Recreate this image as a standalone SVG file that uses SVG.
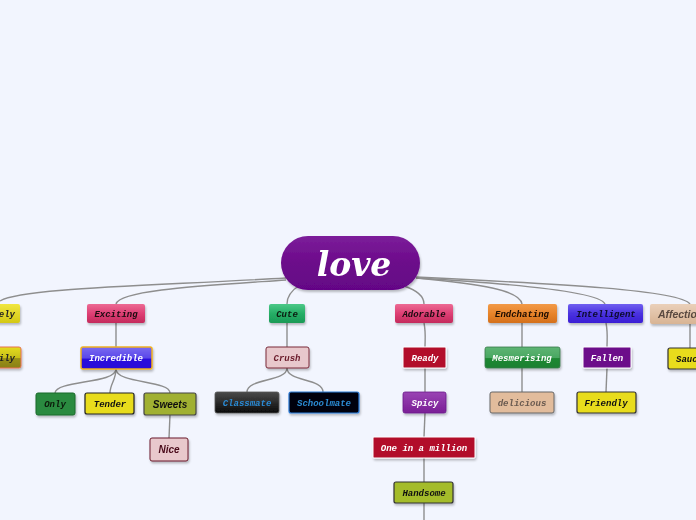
<svg xmlns="http://www.w3.org/2000/svg" width="696" height="520" viewBox="0 0 696 520">
<defs>
<linearGradient id="gPink" x1="0" y1="0" x2="0" y2="1"><stop offset="0" stop-color="#ec6a94"/><stop offset="0.5" stop-color="#de3f74"/><stop offset="1" stop-color="#c42a5c"/></linearGradient>
<linearGradient id="gGreen" x1="0" y1="0" x2="0" y2="1"><stop offset="0" stop-color="#4cc888"/><stop offset="0.5" stop-color="#26ae66"/><stop offset="1" stop-color="#1a9a56"/></linearGradient>
<linearGradient id="gOrange" x1="0" y1="0" x2="0" y2="1"><stop offset="0" stop-color="#f29a48"/><stop offset="0.5" stop-color="#e8842a"/><stop offset="1" stop-color="#d4701c"/></linearGradient>
<linearGradient id="gBlue" x1="0" y1="0" x2="0" y2="1"><stop offset="0" stop-color="#7060f0"/><stop offset="0.5" stop-color="#4a32e0"/><stop offset="1" stop-color="#3a1ed4"/></linearGradient>
<linearGradient id="gTan" x1="0" y1="0" x2="0" y2="1"><stop offset="0" stop-color="#ead0ba"/><stop offset="1" stop-color="#d8b494"/></linearGradient>
<linearGradient id="gYellow" x1="0" y1="0" x2="0" y2="1"><stop offset="0" stop-color="#f0e640"/><stop offset="1" stop-color="#d4c814"/></linearGradient>
<linearGradient id="gOlive" x1="0" y1="0" x2="0" y2="1"><stop offset="0" stop-color="#e4dc20"/><stop offset="0.5" stop-color="#c8c018"/><stop offset="0.55" stop-color="#9a9018"/><stop offset="1" stop-color="#8a8018"/></linearGradient>
<linearGradient id="gIncred" x1="0" y1="0" x2="0" y2="1"><stop offset="0" stop-color="#7a6af0"/><stop offset="0.5" stop-color="#5a48ea"/><stop offset="0.55" stop-color="#2c10dc"/><stop offset="1" stop-color="#2a0ad8"/></linearGradient>
<linearGradient id="gMes" x1="0" y1="0" x2="0" y2="1"><stop offset="0" stop-color="#5eb474"/><stop offset="0.5" stop-color="#4aa862"/><stop offset="0.55" stop-color="#1e8834"/><stop offset="1" stop-color="#1a8030"/></linearGradient>
<linearGradient id="gBlack" x1="0" y1="0" x2="0" y2="1"><stop offset="0" stop-color="#4a4a4a"/><stop offset="0.5" stop-color="#2a2a2a"/><stop offset="1" stop-color="#0a0a0a"/></linearGradient>
<linearGradient id="gPurple" x1="0" y1="0" x2="0" y2="1"><stop offset="0" stop-color="#9a44b4"/><stop offset="1" stop-color="#7a1e96"/></linearGradient>
<linearGradient id="gCenter" x1="0" y1="0" x2="0" y2="1"><stop offset="0" stop-color="#7c1e9a"/><stop offset="0.5" stop-color="#6c0a8a"/><stop offset="1" stop-color="#640686"/></linearGradient>
<filter id="sh" x="-20%" y="-20%" width="140%" height="160%"><feDropShadow dx="1" dy="2" stdDeviation="1" flood-color="#000" flood-opacity="0.25"/></filter>
</defs>
<style>
.c{fill:none;stroke:#8e8e8e;stroke-width:1.4}
.n{filter:url(#sh)}
.t{font-family:"Liberation Mono","DejaVu Sans Mono",monospace;font-size:9px;font-style:italic;font-weight:bold;text-anchor:middle}
.s{font-family:"Liberation Sans",Arial,sans-serif;font-style:italic;font-weight:bold;text-anchor:middle}
.e{text-anchor:end}
.b{text-anchor:start}
</style>
<rect width="696" height="520" fill="#f2f5fe"/>
<g id="connectors">
<path class="c" d="M286,278 C150,286 20,288 0,301"/>
<path class="c" d="M286,280 C200,286 120,290 116,304"/>
<path class="c" d="M300,285 C292,290 287,296 287,304"/>
<path class="c" d="M404,286 C416,290 424,296 424,304"/>
<path class="c" d="M416,278 C480,284 520,290 522,304"/>
<path class="c" d="M416,278 C520,284 600,292 605,304"/>
<path class="c" d="M416,277 C560,284 680,290 690,304"/>
<path class="c" d="M116,323 L116,347"/>
<path class="c" d="M116,369 C116,384 56,380 55,393"/>
<path class="c" d="M116,369 C116,380 110,384 110,393"/>
<path class="c" d="M116,369 C116,384 170,380 170,393"/>
<path class="c" d="M170,415 L169,438"/>
<path class="c" d="M287,323 L287,347"/>
<path class="c" d="M287,368 C287,382 247,378 247,392"/>
<path class="c" d="M287,368 C287,382 323,378 323,392"/>
<path class="c" d="M424,323 C426,333 425,340 425,347"/>
<path class="c" d="M425,368 L425,392"/>
<path class="c" d="M425,413 L424,437"/>
<path class="c" d="M424,458 L424,482"/>
<path class="c" d="M424,503 L424,520"/>
<path class="c" d="M522,323 L522,347"/>
<path class="c" d="M522,368 L522,392"/>
<path class="c" d="M606,323 C608,333 607,340 607,347"/>
<path class="c" d="M607,368 L606,392"/>
<path class="c" d="M690,324 L690,348"/>
</g>
<g id="love" class="n"><rect x="281" y="236" width="139" height="54" rx="27" fill="url(#gCenter)"/><text x="354" y="276" font-family="'DejaVu Serif',serif" font-size="33" font-style="italic" font-weight="bold" fill="#fff" text-anchor="middle">love</text></g>
<g id="lovely" class="n"><rect x="-40" y="304" width="60" height="19" rx="2" fill="url(#gYellow)"/><text class="t e" x="15" y="317" fill="#222">Lovely</text></g>
<g id="exciting" class="n"><rect x="87" y="304" width="58" height="19" rx="2" fill="url(#gPink)"/><text class="t" x="116" y="317" fill="#1a0a10">Exciting</text></g>
<g id="cute" class="n"><rect x="269" y="304" width="36" height="19" rx="2" fill="url(#gGreen)"/><text class="t" x="287" y="317" fill="#0a1a10">Cute</text></g>
<g id="adorable" class="n"><rect x="395" y="304" width="58" height="19" rx="2" fill="url(#gPink)"/><text class="t" x="424" y="317" fill="#1a0a10">Adorable</text></g>
<g id="endchating" class="n"><rect x="488" y="304" width="69" height="19" rx="2" fill="url(#gOrange)"/><text class="t" x="522" y="317" fill="#1a0a00">Endchating</text></g>
<g id="intelligent" class="n"><rect x="568" y="304" width="75" height="19" rx="2" fill="url(#gBlue)"/><text class="t" x="606" y="317" fill="#0a0a2a" font-style="normal">Intelligent</text></g>
<g id="affection" class="n"><rect x="650" y="304" width="80" height="20" rx="2" fill="url(#gTan)"/><text class="s b" x="658" y="318" font-size="10.5" fill="#5a4a40">Affection</text></g>
<g id="family" class="n"><rect x="-40" y="347" width="61" height="21" rx="2" fill="url(#gOlive)" stroke="#e87050" stroke-width="1"/><text class="t e" x="15" y="361" fill="#222">Family</text></g>
<g id="incredible" class="n"><rect x="81" y="347" width="71" height="22" rx="2" fill="url(#gIncred)" stroke="#f0b020" stroke-width="1.5"/><text class="t" x="116" y="361" fill="#fff">Incredible</text></g>
<g id="crush" class="n"><rect x="266" y="347" width="43" height="21" rx="2" fill="#e8c8cc" stroke="#7a2a3a" stroke-width="1"/><text class="t" x="287" y="361" fill="#6a1a2a">Crush</text></g>
<g id="ready" class="n"><rect x="403" y="347" width="43" height="21" rx="1" fill="#b20e2c" stroke="#fff" stroke-width="1"/><text class="t" x="425" y="361" fill="#fff">Ready</text></g>
<g id="mesmerising" class="n"><rect x="485" y="347" width="75" height="21" rx="2" fill="url(#gMes)" stroke="#3a7a4a" stroke-width="0.8"/><text class="t" x="522" y="361" fill="#fff">Mesmerising</text></g>
<g id="fallen" class="n"><rect x="583" y="347" width="48" height="21" rx="1" fill="#6c0a8a" stroke="#fff" stroke-width="1"/><text class="t" x="607" y="361" fill="#fff">Fallen</text></g>
<g id="saucy" class="n"><rect x="668" y="348" width="60" height="21" rx="2" fill="#e8dc1e" stroke="#333" stroke-width="1.2"/><text class="t b" x="676" y="362" fill="#111">Saucy</text></g>
<g id="only" class="n"><rect x="36" y="393" width="39" height="22" rx="2" fill="#2a8a40" stroke="#1a6a2a" stroke-width="1"/><text class="t" x="55" y="407" fill="#0a1a0a">Only</text></g>
<g id="tender" class="n"><rect x="85" y="393" width="49" height="21" rx="2" fill="#e8dc1e" stroke="#222" stroke-width="1.2"/><text class="t" x="110" y="407" fill="#111">Tender</text></g>
<g id="sweets" class="n"><rect x="144" y="393" width="52" height="22" rx="2" fill="#a0b030" stroke="#444" stroke-width="1.2"/><text class="s" x="170" y="408" font-size="10" fill="#111">Sweets</text></g>
<g id="nice" class="n"><rect x="150" y="438" width="38" height="23" rx="2" fill="#e8c8cc" stroke="#6a1a2a" stroke-width="1"/><text class="s" x="169" y="453" font-size="10" fill="#4a0a1a">Nice</text></g>
<g id="classmate" class="n"><rect x="215" y="392" width="64" height="21" rx="2" fill="url(#gBlack)" stroke="#555" stroke-width="0.8"/><text class="t" x="247" y="406" fill="#2a8ad4" font-style="normal">Classmate</text></g>
<g id="schoolmate" class="n"><rect x="289" y="392" width="70" height="21" rx="2" fill="#050510" stroke="#2a7ad8" stroke-width="1.2"/><text class="t" x="324" y="406" fill="#2a8ad4">Schoolmate</text></g>
<g id="spicy" class="n"><rect x="403" y="392" width="43" height="21" rx="2" fill="url(#gPurple)" stroke="#6a1a8a" stroke-width="0.8"/><text class="t" x="425" y="406" fill="#fff">Spicy</text></g>
<g id="delicious" class="n"><rect x="490" y="392" width="64" height="21" rx="2" fill="#e2bc9c" stroke="#666" stroke-width="1"/><text class="t" x="522" y="406" fill="#6a5a50" font-weight="normal">delicious</text></g>
<g id="friendly" class="n"><rect x="577" y="392" width="59" height="21" rx="2" fill="#e8dc1e" stroke="#333" stroke-width="1.2"/><text class="t" x="606" y="406" fill="#111">Friendly</text></g>
<g id="oneinamillion" class="n"><rect x="373" y="437" width="102" height="21" rx="1" fill="#b20e2c" stroke="#fff" stroke-width="1"/><text class="t" x="424" y="451" fill="#fff">One in a million</text></g>
<g id="handsome" class="n"><rect x="394" y="482" width="59" height="21" rx="2" fill="#a4bc2c" stroke="#333" stroke-width="1.2"/><text class="t" x="424" y="496" fill="#111">Handsome</text></g>
</svg>
